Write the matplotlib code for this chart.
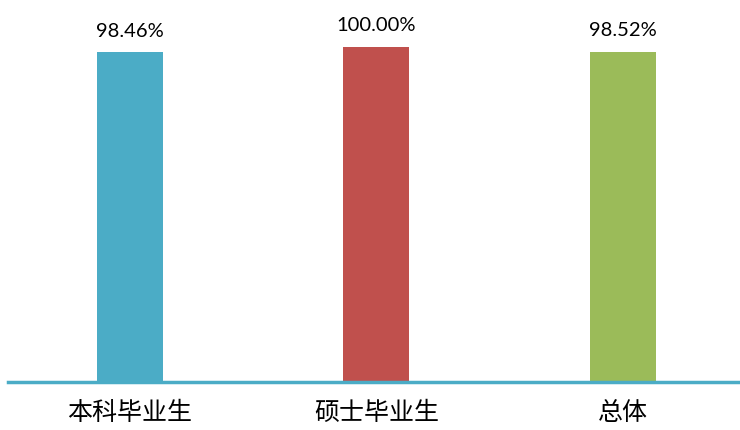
import matplotlib
matplotlib.use('Agg')
import matplotlib.pyplot as plt

categories = ['本科毕业生', '硕士毕业生', '总体']
values = [98.46, 100.00, 98.52]
labels = ['98.46%', '100.00%', '98.52%']
colors = ['#4BACC6', '#C0504D', '#9BBB59']

plt.rcParams['font.family'] = ['Noto Sans CJK SC', 'DejaVu Sans']

fig = plt.figure(figsize=(7.4, 4.3), dpi=100)
ax = fig.add_axes([8 / 740, 48 / 430, 732 / 740, 382 / 430])

x = range(len(categories))
bars = ax.bar(x, values, width=0.268, color=colors, zorder=2)

for xi, v, lab in zip(x, values, labels):
    ax.annotate(lab, (xi, v), xytext=(0, 9), textcoords='offset points',
                ha='center', va='bottom', fontsize=14.5, family=['Lato', 'DejaVu Sans'])

ax.set_xlim(-0.495, 2.475)
ax.set_ylim(0, 114.0)
ax.set_xticks(list(x))
ax.set_xticklabels(categories, fontsize=18)
ax.tick_params(axis='x', length=0, pad=13)
ax.set_yticks([])
for s in ['top', 'right', 'left']:
    ax.spines[s].set_visible(False)
ax.spines['bottom'].set_color('#4BACC6')
ax.spines['bottom'].set_linewidth(2.5)
ax.spines['bottom'].set_zorder(3)

fig.savefig('out.png', dpi=100)
